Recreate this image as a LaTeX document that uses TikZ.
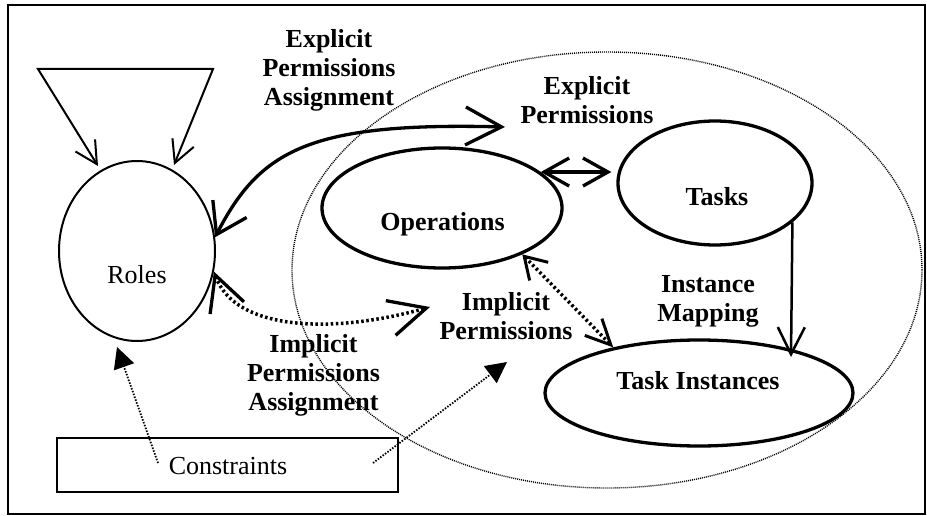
\documentclass[tikz,border=0pt]{standalone}
\usepackage{fontspec}
\setmainfont{Liberation Serif}
\usetikzlibrary{shapes.geometric,arrows.meta}
\begin{document}
\begin{tikzpicture}[x=1pt,y=-1pt,
  lbl/.style={font=\fontsize{26}{29}\selectfont\bfseries, align=center, inner sep=0pt, anchor=north},
  txt/.style={font=\fontsize{26}{29}\selectfont, inner sep=0pt, anchor=base},
  btxt/.style={font=\fontsize{26}{29}\selectfont\bfseries, inner sep=0pt, anchor=base},
  thinell/.style={draw, ellipse, line width=2pt, inner sep=0pt},
  thickell/.style={draw, ellipse, line width=3.3pt, inner sep=0pt},
  bigdot/.style={draw, ellipse, line width=1.4pt, dash pattern=on 1pt off 1pt, inner sep=0pt},
  thickarr/.style={line width=3.3pt, line cap=round},
  thickdots/.style={line width=3.5pt, dash pattern=on 2.5pt off 2.6pt},
  thindots/.style={line width=1.8pt, dash pattern=on 1.5pt off 1.5pt},
  thinarr/.style={line width=2pt}
]
\useasboundingbox (0,0) rectangle (927,516);
% frame
\draw[line width=2pt] (8,5) rectangle (925,514);

% shapes
\node[bigdot, minimum width=630pt, minimum height=436pt] (scope) at (607,270) {};
\node[thinell, minimum width=156pt, minimum height=180pt] (roles) at (137,251) {};
\node[thickell, minimum width=240pt, minimum height=120pt] (ops) at (442,208) {};
\node[thickell, minimum width=194pt, minimum height=124pt] (tasks) at (715,183) {};
\node[thickell, minimum width=308pt, minimum height=106pt] (ti) at (699,393) {};
\node[draw, rectangle, line width=2pt, minimum width=341pt, minimum height=54pt, inner sep=0pt] (cbox) at (227.5,465) {};

% texts
\node[txt] (rolest) at (137,283) {Roles};
\node[txt] (const) at (228,474) {Constraints};
\node[btxt] (opst) at (442.5,230) {Operations};
\node[btxt] (taskst) at (717,205) {Tasks};
\node[btxt] (tit) at (698,389) {Task Instances};
\node[lbl] (epalbl) at (329,29.5) {Explicit\\Permissions\\Assignment};
\node[lbl] (eplbl) at (587,76) {Explicit\\Permissions};
\node[lbl] (iplbl) at (506,292) {Implicit\\Permissions};
\node[lbl] (ipalbl) at (313.5,334) {Implicit\\Permissions\\Assignment};
\node[lbl] (imlbl) at (708,275) {Instance\\Mapping};

% coordinates
\coordinate (loopA) at (38,69);
\coordinate (loopB) at (213,69);
\coordinate (loopTipA) at (98,166);
\coordinate (loopTipB) at (174,165);
\coordinate (epEnd) at (505,127);
\coordinate (ipEnd) at (430,307);
\coordinate (tiTop) at (791,357);
\coordinate (cStartA) at (158,463);
\coordinate (cTipA) at (117,347);
\coordinate (cStartB) at (373,463);
\coordinate (cTipB) at (507,362);

% role hierarchy loop
\draw[thinarr, line join=miter, {Straight Barb[length=22pt,width=23pt]}-{Straight Barb[length=22pt,width=23pt]}]
  (loopTipA) -- (loopA) -- (loopB) -- (loopTipB);

% explicit permissions assignment
\draw[thickarr, {Straight Barb[length=29pt,width=38pt]}-{Straight Barb[length=36pt,width=38pt]}]
  (roles.10) .. controls (260,150) and (310,122) .. (epEnd);

% implicit permissions assignment
\draw[thickdots, {Straight Barb[length=35pt,width=36pt,line width=3.3pt]}-{Straight Barb[length=37pt,width=36pt,line width=3.3pt]}]
  (roles.-15) .. controls (235,330) and (330,335) .. (ipEnd);

% operations <-> tasks
\draw[thickarr, {Straight Barb[length=25pt,width=28pt]}-{Straight Barb[length=25pt,width=28pt]}, shorten >=5pt]
  (ops.20) -- (ops.20 -| tasks.west);

% operations <-> task instances (implicit)
\draw[thickdots, {Straight Barb[length=21pt,width=26pt,line width=3pt]}-{Straight Barb[length=25pt,width=24pt,line width=3pt]}]
  (ops.-30) -- (ti.152);

% instance mapping
\draw[line width=2.5pt, -{Straight Barb[length=27pt,width=27pt]}]
  (tasks.-27) -- (tiTop);

% constraints
\draw[thindots, -{Triangle[length=21pt,width=21pt]}] (cStartA) -- (cTipA);
\draw[thindots, -{Triangle[length=21pt,width=21pt]}] (cStartB) -- (cTipB);
\end{tikzpicture}
\end{document}
